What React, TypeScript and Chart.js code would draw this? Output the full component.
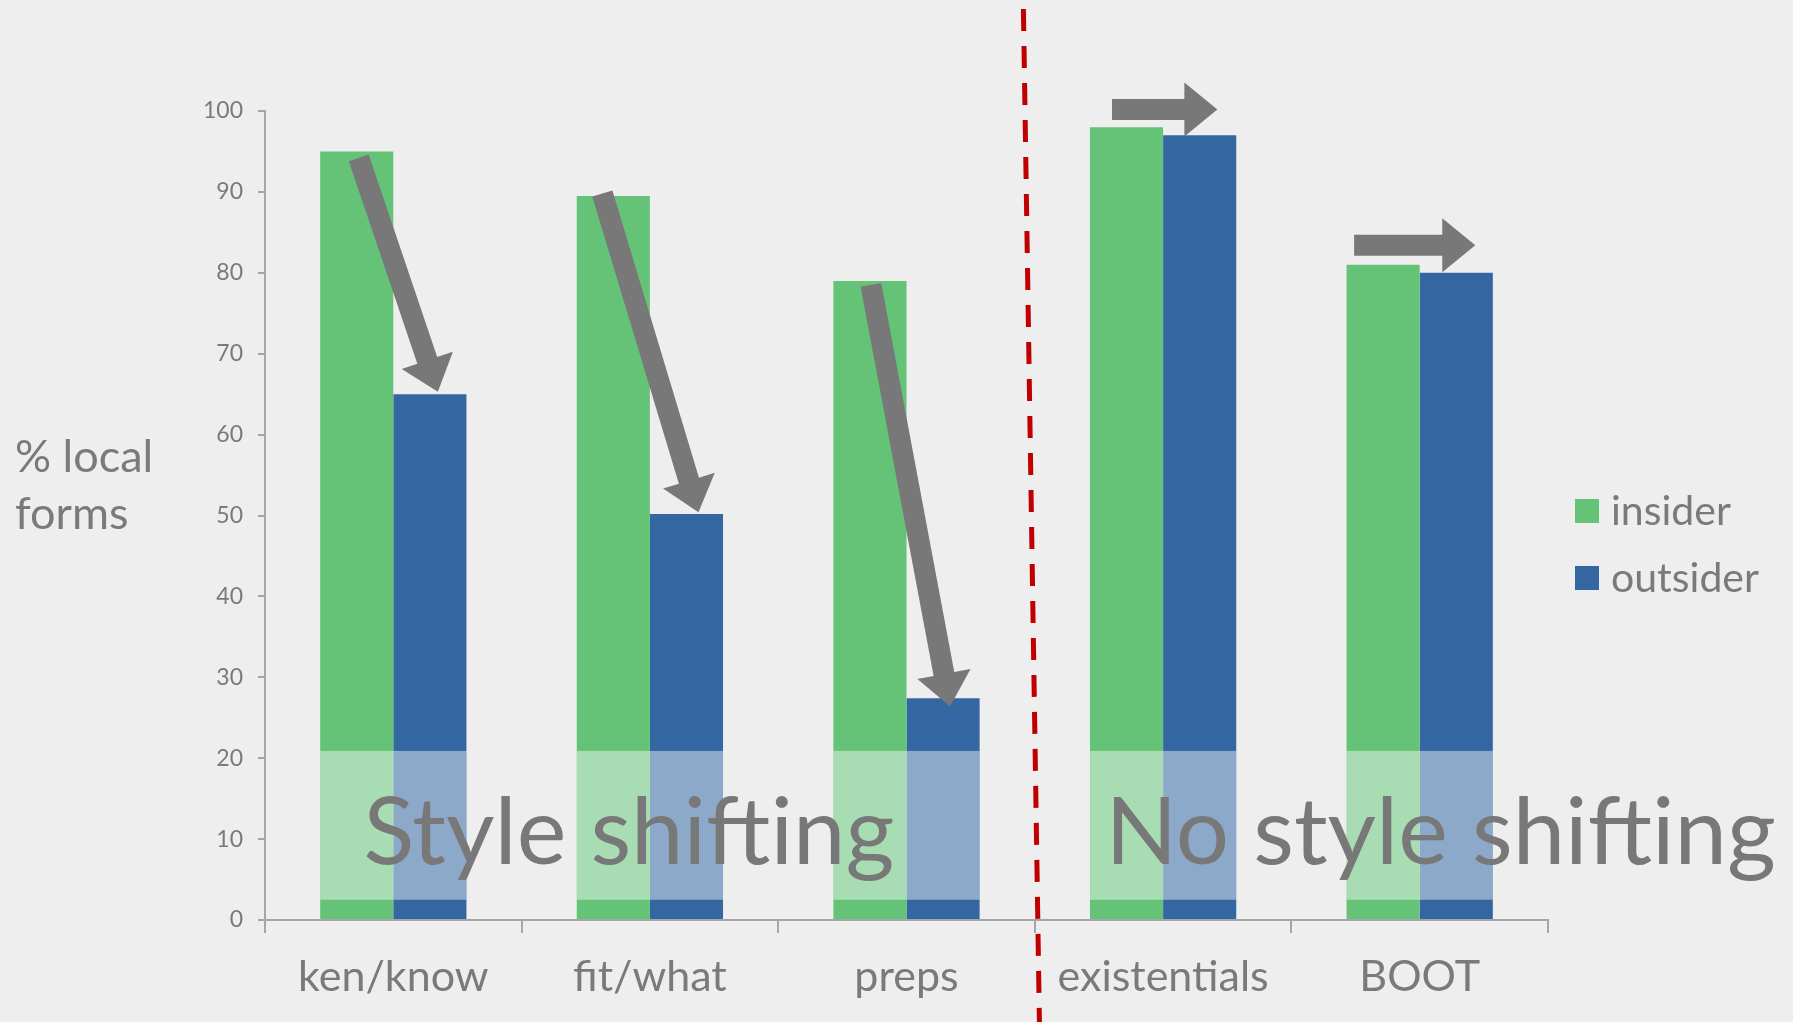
import React, { useEffect, useRef } from 'react';
import { Chart, registerables } from 'chart.js';

Chart.register(...registerables);

// ---------------- data ----------------
const categories = ['ken/know', 'fit/what', 'preps', 'existentials', 'BOOT'];
const seriesNames = ['insider', 'outsider'];
const insiderValues = [95, 89.5, 79, 98, 81];
const outsiderValues = [65, 50.2, 27.4, 97, 80];
const yMin = 0;
const yMax = 100;
const yStep = 10;
const axisTitleLines = ['% local', 'forms'];
const groupLabels = ['Style shifting', 'No style shifting'];
// faded band across the bars (value range)
const bandRange = [2.5, 20.9];
// diagonal arrows: category, start value (on insider bar), end value (on outsider bar)
const diagonalArrowCats = [0, 1, 2];
const diagonalArrowFrom = [94.2, 89.8, 78.5];
const diagonalArrowTo = [65.3, 50.4, 26.4];
// horizontal arrows: category, level value
const flatArrowCats = [3, 4];
const flatArrowLevels = [100.2, 83.4];

// ---------------- styles ----------------
const BG = '#eeeeee';
const GREEN = '#65c378';
const BLUE = '#3467a1';
const TEXT = '#7a7a7a';
const AXIS = '#a6a6a6';
const ARROW = '#787878';
const RED = '#c00000';
const FONT = 'Lato';
const diagStartDx = [2, -11, 1];
const diagEndDx = [8, 12, 7];
const flatStartDx = [-14.5, -29];
const flatEndDx = [17.7, 19];

function drawArrow(ctx: CanvasRenderingContext2D, x1: number, y1: number, x2: number, y2: number) {
  const shaft = 21;
  const headW = 54;
  const headL = 33;
  const dx = x2 - x1;
  const dy = y2 - y1;
  const len = Math.sqrt(dx * dx + dy * dy);
  const ux = dx / len;
  const uy = dy / len;
  const px = -uy;
  const py = ux;
  const bx = x2 - ux * headL;
  const by = y2 - uy * headL;
  ctx.beginPath();
  ctx.moveTo(x1 + px * shaft / 2, y1 + py * shaft / 2);
  ctx.lineTo(bx + px * shaft / 2, by + py * shaft / 2);
  ctx.lineTo(bx + px * headW / 2, by + py * headW / 2);
  ctx.lineTo(x2, y2);
  ctx.lineTo(bx - px * headW / 2, by - py * headW / 2);
  ctx.lineTo(bx - px * shaft / 2, by - py * shaft / 2);
  ctx.lineTo(x1 - px * shaft / 2, y1 - py * shaft / 2);
  ctx.closePath();
  ctx.fillStyle = ARROW;
  ctx.fill();
}

const decorPlugin = {
  id: 'decor',
  beforeDraw(chart: any) {
    const { ctx, width, height } = chart;
    ctx.save();
    ctx.fillStyle = BG;
    ctx.fillRect(0, 0, width, height);
    ctx.restore();
  },
  afterDatasetsDraw(chart: any) {
    const { ctx } = chart;
    const ys = chart.scales.y;
    const xs = chart.scales.x;
    ctx.save();
    // faded band
    const bTop = ys.getPixelForValue(bandRange[1]);
    const bBot = ys.getPixelForValue(bandRange[0]);
    ctx.fillStyle = 'rgba(255,255,255,0.44)';
    for (let d = 0; d < 2; d++) {
      const meta = chart.getDatasetMeta(d);
      meta.data.forEach((bar: any) => {
        ctx.fillRect(bar.x - bar.width / 2, bTop, bar.width, bBot - bTop);
      });
    }
    // group labels
    ctx.fillStyle = ARROW;
    ctx.font = `94px ${FONT}`;
    ctx.textAlign = 'center';
    ctx.textBaseline = 'alphabetic';
    const base = ys.getPixelForValue(6.93);
    ctx.fillText(groupLabels[0], xs.getPixelForValue(1) - 21, base);
    ctx.fillText(groupLabels[1], xs.getPixelForValue(4) + 21, base);
    // arrows
    const m0 = chart.getDatasetMeta(0);
    const m1 = chart.getDatasetMeta(1);
    diagonalArrowCats.forEach((c, i) => {
      const g = m0.data[c];
      const b = m1.data[c];
      drawArrow(ctx, g.x + diagStartDx[i], ys.getPixelForValue(diagonalArrowFrom[i]), b.x + diagEndDx[i], ys.getPixelForValue(diagonalArrowTo[i]));
    });
    flatArrowCats.forEach((c, i) => {
      const g = m0.data[c];
      const b = m1.data[c];
      const y = ys.getPixelForValue(flatArrowLevels[i]);
      drawArrow(ctx, g.x + flatStartDx[i], y, b.x + flatEndDx[i], y);
    });
    ctx.restore();
  },
  afterDraw(chart: any) {
    const { ctx, chartArea, height } = chart;
    const xs = chart.scales.x;
    const ys = chart.scales.y;
    ctx.save();
    // y axis title
    ctx.fillStyle = TEXT;
    ctx.font = `45px ${FONT}`;
    ctx.textAlign = 'left';
    ctx.textBaseline = 'alphabetic';
    ctx.fillText(axisTitleLines[0], 15, 472);
    ctx.fillText(axisTitleLines[1], 15, 529);
    // legend
    const lx = chartArea.right + 27;
    const colors = [GREEN, BLUE];
    ctx.font = `41px ${FONT}`;
    ctx.textBaseline = 'middle';
    seriesNames.forEach((n, i) => {
      const cy = height / 2 + i * 67;
      ctx.fillStyle = colors[i];
      ctx.fillRect(lx, cy - 12, 24, 24);
      ctx.fillStyle = TEXT;
      ctx.fillText(n, lx + 36, cy + 1);
    });
    // red dashed divider
    const bx = (xs.getPixelForValue(2) + xs.getPixelForValue(3)) / 2 + 3;
    const ay = ys.getPixelForValue(0);
    const slope = 16 / 1013;
    ctx.strokeStyle = RED;
    ctx.lineWidth = 5;
    ctx.setLineDash([22, 15]);
    ctx.beginPath();
    ctx.moveTo(bx + (9 - ay) * slope, 9);
    ctx.lineTo(bx + (height - ay) * slope, height);
    ctx.stroke();
    ctx.restore();
  },
};

export default function App() {
  const ref = useRef<HTMLCanvasElement | null>(null);
  useEffect(() => {
    document.body.style.margin = '0';
    document.body.style.background = BG;
    if (!ref.current) return;
    const chart = new Chart(ref.current, {
      type: 'bar',
      data: {
        labels: categories,
        datasets: [
          { label: seriesNames[0], data: insiderValues, backgroundColor: GREEN, borderWidth: 0, barPercentage: 1, categoryPercentage: 0.57 },
          { label: seriesNames[1], data: outsiderValues, backgroundColor: BLUE, borderWidth: 0, barPercentage: 1, categoryPercentage: 0.57 },
        ],
      },
      options: {
        animation: false,
        responsive: false,
        devicePixelRatio: 1,
        layout: { padding: { top: 111, right: 245, bottom: 0, left: 0 } },
        plugins: { legend: { display: false }, tooltip: { enabled: false } },
        scales: {
          x: {
            grid: { display: true, drawOnChartArea: false, drawTicks: true, tickLength: 13, offset: true, color: AXIS, lineWidth: 2 },
            border: { color: AXIS, width: 2 },
            ticks: { color: TEXT, font: { size: 43, family: FONT }, padding: 18, maxRotation: 0, autoSkip: false },
            afterFit: (s: any) => { s.height = 102; },
          },
          y: {
            min: yMin,
            max: yMax,
            grid: { display: true, drawOnChartArea: false, drawTicks: true, tickLength: 7, color: AXIS, lineWidth: 2 },
            border: { color: AXIS, width: 2 },
            ticks: { stepSize: yStep, color: TEXT, font: { size: 23, family: FONT }, padding: 15 },
            afterFit: (s: any) => { s.width = 265; },
          },
        },
      },
      plugins: [decorPlugin],
    } as any);
    return () => chart.destroy();
  }, []);
  return (
    <div style={{ width: 1793, height: 1022 }}>
      <canvas ref={ref} width={1793} height={1022} style={{ display: 'block' }} />
    </div>
  );
}
